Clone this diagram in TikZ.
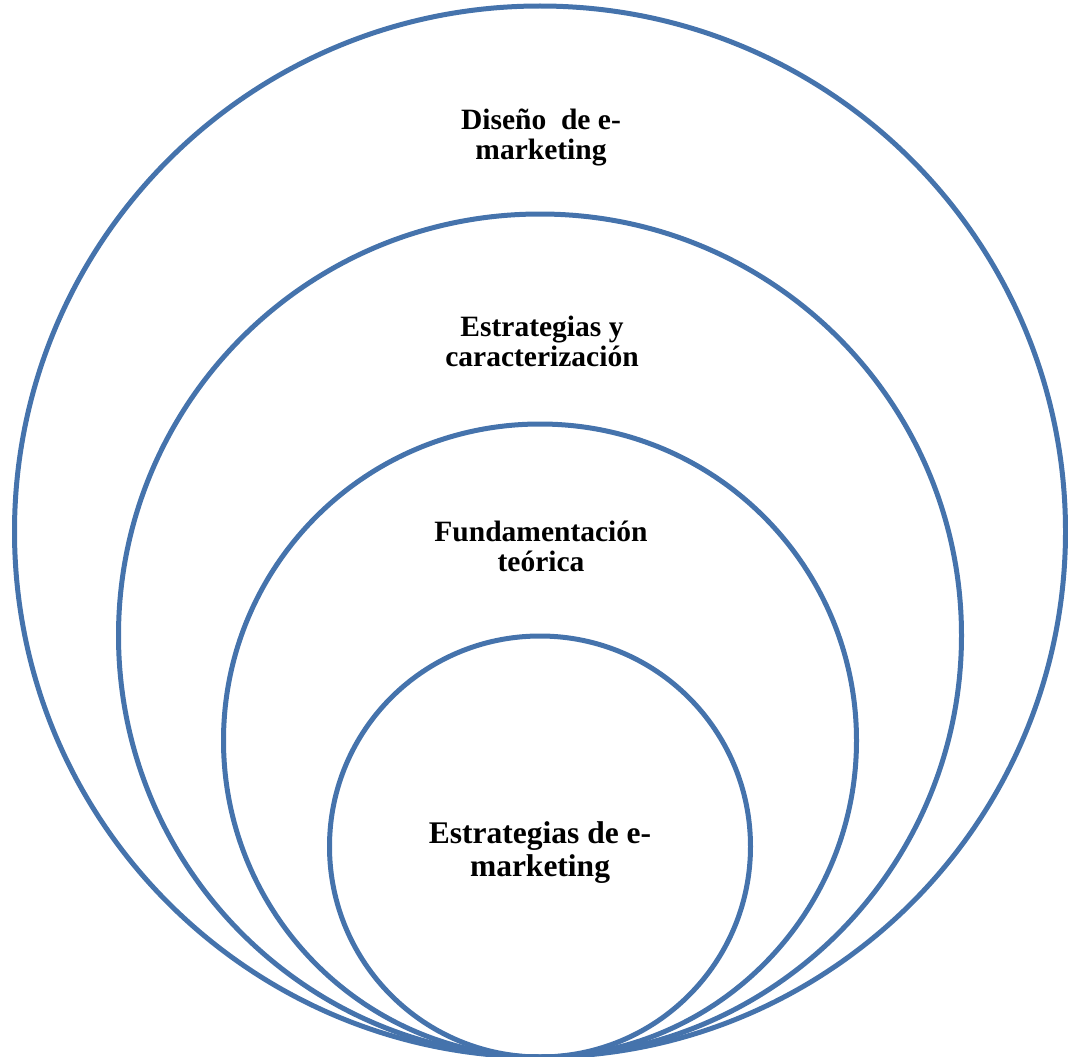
\documentclass[tikz,border=0pt]{standalone}
\usepackage{fontspec}
\setmainfont{Liberation Serif}
\begin{document}
\begin{tikzpicture}[x=1pt,y=-1pt,
  ring/.style={draw=ringblue, line width=5pt, circle, inner sep=0pt, minimum size=#1},
  lbl/.style={font=\bfseries\fontsize{29.5}{30}\selectfont, align=center, inner sep=0pt},
  lblbig/.style={font=\bfseries\fontsize{31.5}{33.5}\selectfont, align=center, inner sep=0pt}]
\definecolor{ringblue}{HTML}{4573AC}
\useasboundingbox (0,0) rectangle (1068,1057);
% four circles, all touching at the bottom point (540,1057)
\node[ring=1051pt] (c1) at (540,531.5) {};
\node[ring=843pt]  (c2) at (540,635.5) {};
\node[ring=633pt]  (c3) at (540,740.5) {};
\node[ring=421pt]  (c4) at (540,846.5) {};
% labels
\node[lbl] (t1) at (541,137) {Diseño\ \ de e-\\marketing};
\node[lbl] (t2) at (542,341.5) {Estrategias y\\caracterización};
\node[lbl] (t3) at (541,546) {Fundamentación\\teórica};
\node[lblbig] (t4) at (540,852.5) {Estrategias de e-\\marketing};
\end{tikzpicture}
\end{document}
